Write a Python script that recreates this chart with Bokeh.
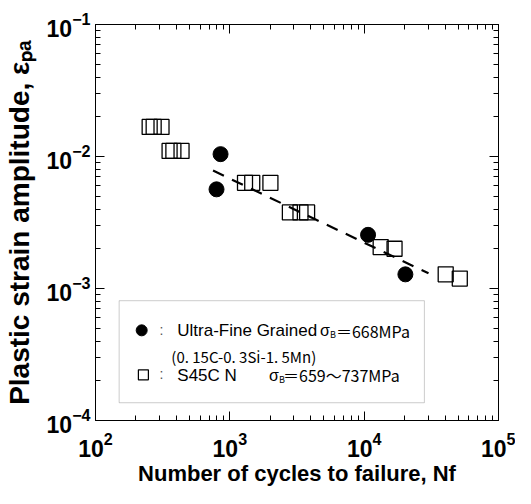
import math
from bokeh.plotting import figure
from bokeh.models import LogAxis, FixedTicker, Label, BoxAnnotation, Range1d, LogTickFormatter
from bokeh.embed import file_html
from bokeh.resources import INLINE

# ---------------- data ----------------
ufg_cycles = [796, 853, 10690, 20270]
ufg_strain = [0.00564, 0.01042, 0.00255, 0.00128]

s45c_cycles = [253, 271, 310, 356, 380, 437, 1297, 1468, 2005,
               2799, 3357, 3760, 13270, 16830, 40450, 51500]
s45c_strain = [0.01675, 0.01675, 0.01675, 0.01102, 0.01102, 0.01102,
               0.00632, 0.00632, 0.00632, 0.00377, 0.00377, 0.00377,
               0.00206, 0.00200, 0.00128, 0.00119]

fit_cycles = [750, 30130]
fit_strain = [0.00782, 0.001303]

x_decades = [2, 3, 4, 5]
y_decades = [-4, -3, -2, -1]

x_title = "Number of cycles to failure, Nf"
y_title = "Plastic strain amplitude, εₚₐ"
leg1_name = "Ultra-Fine Grained"
leg1_val = "＝668MPa"
leg1_comp = "(0. 15C-0. 3Si-1. 5Mn)"
leg2_name = "S45C N"
leg2_val = "＝659～737MPa"

SANS = "Liberation Sans"
JP = "Noto Sans CJK JP"

# frame position on the page (pixels)
FX0, FX1, FY0, FY1 = 102, 506, 32, 433
XMIN, XMAX = 10 ** x_decades[0], 10 ** x_decades[-1]
YMIN, YMAX = 10.0 ** y_decades[0], 10.0 ** y_decades[-1]


def at(px, py):
    """page pixel -> data coordinates (for annotation placement)"""
    lx = x_decades[0] + (px - FX0) / (FX1 - FX0) * (x_decades[-1] - x_decades[0])
    ly = y_decades[-1] - (py - FY0) / (FY1 - FY0) * (y_decades[-1] - y_decades[0])
    return 10 ** lx, 10 ** ly


W, H = 515, 488
p = figure(width=W, height=H, x_axis_type="log", y_axis_type="log",
           x_range=Range1d(XMIN, XMAX), y_range=Range1d(YMIN, YMAX),
           output_backend="svg", toolbar_location=None,
           min_border_left=FX0 - 8, min_border_right=W - (FX1 - 8),
           min_border_top=FY0 - 8, min_border_bottom=H - (FY1 - 8))
p.xgrid.visible = False
p.ygrid.visible = False
p.outline_line_color = "black"
p.outline_line_width = 1
p.background_fill_color = "white"
p.border_fill_color = "white"

xt = FixedTicker(ticks=[10.0 ** d for d in x_decades],
                 minor_ticks=[m * 10.0 ** d for d in x_decades[:-1] for m in range(2, 10)])
yt = FixedTicker(ticks=[10.0 ** d for d in y_decades],
                 minor_ticks=[m * 10.0 ** d for d in y_decades[:-1] for m in range(2, 10)])

top_axis = LogAxis()
right_axis = LogAxis()
p.add_layout(top_axis, "above")
p.add_layout(right_axis, "right")
for ax in p.xaxis:
    ax.ticker = xt
for ax in p.yaxis:
    ax.ticker = yt
for ax in list(p.xaxis) + list(p.yaxis):
    ax.major_tick_in = 9
    ax.major_tick_out = 0
    ax.minor_tick_in = 5
    ax.minor_tick_out = 0
    ax.axis_line_color = "black"
    ax.major_tick_line_color = "black"
    ax.minor_tick_line_color = "black"
    ax.formatter = LogTickFormatter()
    ax.major_label_text_font = SANS
    ax.major_label_text_font_style = "bold"
    ax.major_label_text_color = "black"
    ax.major_label_text_font_size = "23px"

for ax in (top_axis, right_axis):
    ax.major_label_text_font_size = "1px"
    ax.major_label_text_alpha = 0
    ax.major_label_standoff = 0

bx = p.below[0]
bx.major_label_standoff = 11
bx.axis_label = x_title
bx.axis_label_text_font = SANS
bx.axis_label_text_font_style = "bold"
bx.axis_label_text_font_size = "22px"
bx.axis_label_text_color = "black"
bx.axis_label_standoff = 1

ly = p.left[0]
ly.major_label_standoff = 5
ly.axis_label = y_title
ly.axis_label_text_font = SANS
ly.axis_label_text_font_style = "bold"
ly.axis_label_text_font_size = "28px"
ly.axis_label_text_color = "black"
ly.axis_label_standoff = 9

# ---------------- marks ----------------
p.line(fit_cycles, fit_strain, line_color="black", line_width=2.2, line_dash="12 9")
p.scatter(s45c_cycles, s45c_strain, marker="square", size=15,
          fill_color=None, line_color="black", line_width=1.3)
p.scatter(ufg_cycles, ufg_strain, marker="circle", size=15,
          fill_color="black", line_color="black")

# ---------------- legend box ----------------
bl = at(125.7, 415)
tr = at(431.7, 311.7)
p.add_layout(BoxAnnotation(left=bl[0], right=tr[0], bottom=bl[1], top=tr[1],
                           fill_alpha=0, line_color="#555555", line_width=1))

m1 = at(148.3, 341.7)
m2 = at(150, 386.7)
p.scatter([m1[0]], [m1[1]], marker="circle", size=11, fill_color="black", line_color="black")
p.scatter([m2[0]], [m2[1]], marker="square", size=10, fill_color=None,
          line_color="black", line_width=1.2)


def txt(px, py, s, font=SANS, size="16px", color="black", align="left"):
    x, y = at(px, py - 6)
    p.add_layout(Label(x=x, y=y, text=s, text_align=align, text_baseline="alphabetic",
                       text_font=font, text_font_size=size, text_color=color))


txt(168, 347, ":", size="14px", color="#555555", align="center")
txt(168, 392, ":", size="14px", color="#555555", align="center")
txt(184, 348, leg1_name, size="17px")
txt(327, 348, "σ", size="16px")
txt(337, 352, "B", font=JP, size="9px")
txt(343, 348, leg1_val, font=JP, size="16px")
txt(178, 374, leg1_comp, font=JP, size="15px")
txt(184, 393, leg2_name, size="17px")
txt(276, 393, "σ", size="16px")
txt(286, 397, "B", font=JP, size="9px")
txt(290, 393, leg2_val, font=JP, size="16px")

open("out.html", "w").write(file_html(p, INLINE))
